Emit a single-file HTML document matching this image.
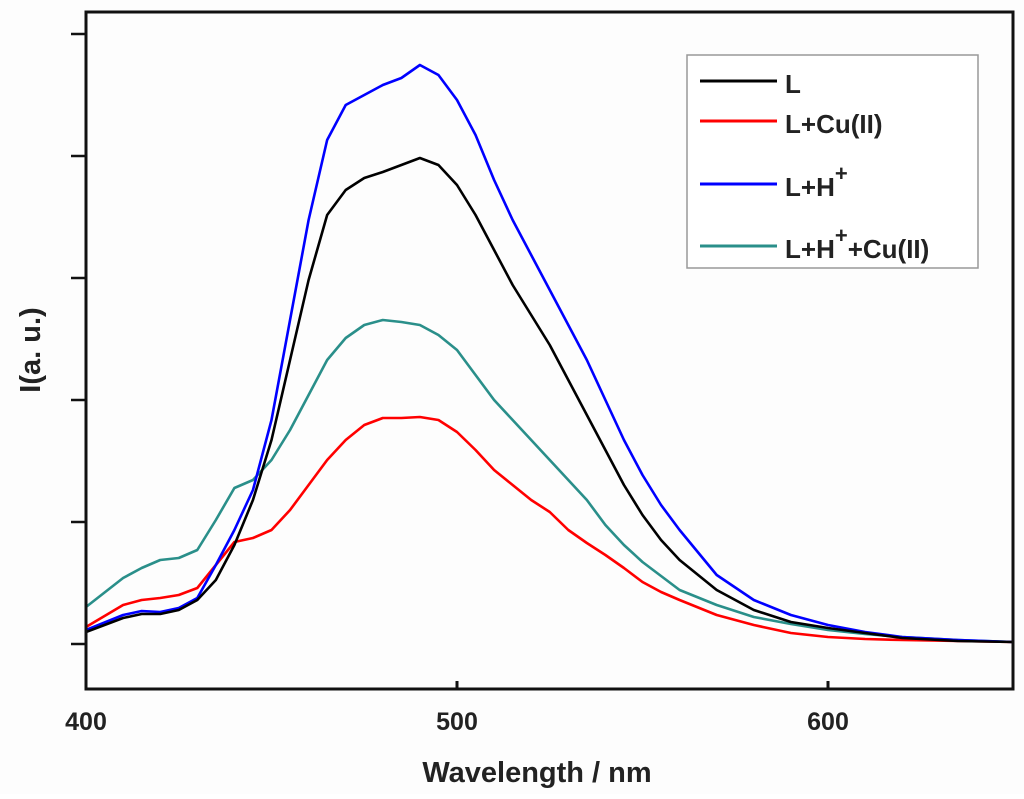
<!DOCTYPE html>
<html><head><meta charset="utf-8"><style>
body{margin:0;background:#fff}
svg text{font-family:"Liberation Sans",Arial,sans-serif;font-weight:bold;fill:#222}
</style></head><body>
<svg id="c" width="1024" height="794">
<rect x="0" y="0" width="1024" height="794" fill="#fdfdfd"/>
<g id="plot"></g>
<rect x="86" y="12" width="927" height="677" fill="none" stroke="#111" stroke-width="3"/>
<g id="ticks"></g>
<text x="537" y="782" font-size="29" text-anchor="middle">Wavelength / nm</text>
<text transform="translate(40,350) rotate(-90)" font-size="29" text-anchor="middle">I(a. u.)</text>
<g>
<rect x="687" y="55" width="291" height="213" fill="#fff" stroke="#999" stroke-width="1.5"/>
<line x1="700" y1="81" x2="777" y2="81" stroke="#000" stroke-width="3"/>
<text x="785" y="93" font-size="26">L</text>
<line x1="700" y1="121" x2="777" y2="121" stroke="#f00" stroke-width="3"/>
<text x="785" y="133" font-size="26">L+Cu(II)</text>
<line x1="700" y1="184" x2="777" y2="184" stroke="#00f" stroke-width="3"/>
<text x="785" y="196" font-size="26">L+H<tspan dy="-15" font-size="22">+</tspan></text>
<line x1="700" y1="246" x2="777" y2="246" stroke="#2a8f8a" stroke-width="3"/>
<text x="785" y="258" font-size="26">L+H<tspan dy="-15" font-size="22">+</tspan><tspan dy="15">+Cu(II)</tspan></text>
</g>
</svg>
<script>
const wl=[400,410,415,420,425,430,435,440,445,450,455,460,465,470,475,480,485,490,495,500,505,510,515,520,525,530,535,540,545,550,555,560,570,580,590,600,610,620,635,650];
const seriesL=[12,26,30,30,34,44,64,99,144,204,284,364,429,454,466,472,479,486,479,459,429,394,359,329,299,264,229,194,159,129,104,84,54,34,22,16,11,6,3,2];
const seriesCu=[17,39,44,46,49,56,79,102,106,114,134,159,184,204,219,226,226,227,224,212,194,174,159,144,132,114,101,89,76,62,52,44,29,19,11,7,5,4,3,2];
const seriesH=[14,29,33,32,36,46,79,114,154,224,324,424,504,539,549,559,566,579,569,544,509,464,424,389,354,319,284,244,204,169,139,114,69,44,29,19,12,7,4,2];
const seriesHCu=[37,66,76,84,86,94,124,156,164,184,214,249,284,306,319,324,322,319,309,294,269,244,224,204,184,164,144,119,99,82,68,54,39,27,20,14,10,7,4,2];
const xTicks=[400,500,600];
const yTicks=[0,122,244,366,488,610];
const X=v=>86+(v-400)*3.71, Y=v=>644-v;
const NS="http://www.w3.org/2000/svg";
const plot=document.getElementById('plot'), tk=document.getElementById('ticks');
function line(d,color,name){
  const p=document.createElementNS(NS,'polyline');
  p.setAttribute('points',wl.map((w,i)=>X(w)+','+Y(d[i])).join(' '));
  p.setAttribute('fill','none');p.setAttribute('stroke',color);p.setAttribute('stroke-width','2.6');p.setAttribute('stroke-linejoin','round');
  
  
  plot.appendChild(p);
}
line(seriesHCu,'#2a8f8a','series-l-h-cu');
line(seriesCu,'#f00','series-l-cu');
line(seriesH,'#00f','series-l-h');
line(seriesL,'#000','series-l');
xTicks.forEach(t=>{
  const l=document.createElementNS(NS,'line');
  l.setAttribute('x1',X(t));l.setAttribute('x2',X(t));l.setAttribute('y1',689);l.setAttribute('y2',681);
  l.setAttribute('stroke','#111');l.setAttribute('stroke-width','3');
  
  
  tk.appendChild(l);
  const s=document.createElementNS(NS,'text');
  s.setAttribute('x',X(t));s.setAttribute('y',730);s.setAttribute('font-size','25');s.setAttribute('text-anchor','middle');
  s.textContent=t;
  
  
  tk.appendChild(s);
});
yTicks.forEach(t=>{
  const l=document.createElementNS(NS,'line');
  l.setAttribute('x1',71);l.setAttribute('x2',86);l.setAttribute('y1',Y(t));l.setAttribute('y2',Y(t));
  l.setAttribute('stroke','#111');l.setAttribute('stroke-width','2.5');
  
  
  tk.appendChild(l);
});
</script>
</body></html>
